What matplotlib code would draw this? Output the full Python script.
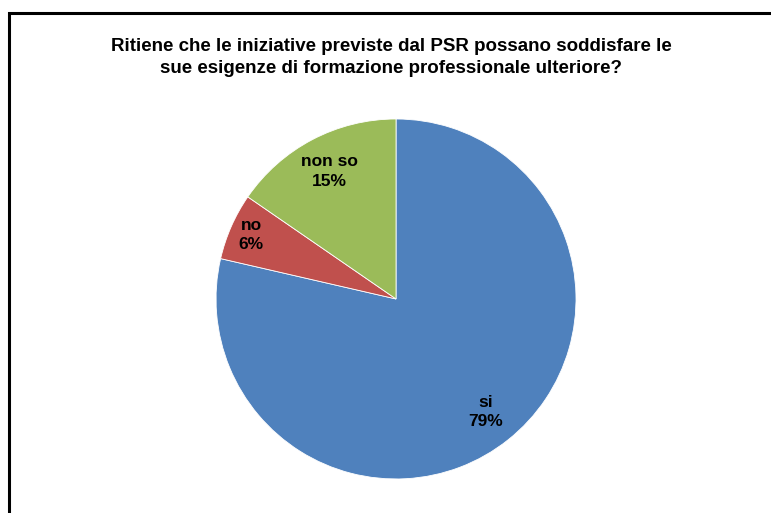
import matplotlib
matplotlib.use("Agg")
import matplotlib.pyplot as plt
from matplotlib.patches import Rectangle

plt.rcParams['font.family'] = ['Liberation Sans', 'DejaVu Sans']

labels = ["si", "no", "non so"]
values = [78.6, 6.0, 15.4]
colors = ["#4F81BD", "#C0504D", "#9BBB59"]
title = "Ritiene che le iniziative previste dal PSR possano soddisfare le\nsue esigenze di formazione professionale ulteriore?"

fig = plt.figure(figsize=(7.71, 5.13), dpi=100)
ax = fig.add_axes([0.2802, 0.0663, 0.4669, 0.7018])

wedges, texts, autotexts = ax.pie(
    values, colors=colors, startangle=90, counterclock=False,
    autopct=lambda p: "", pctdistance=0.8,
    wedgeprops=dict(edgecolor="white", linewidth=0.6))

for w, t, lab, v in zip(wedges, autotexts, labels, values):
    t.set_text(f"{lab}\n{round(v)}%")
    t.set_fontsize(12.5)
    t.set_fontweight("bold")
    t.set_linespacing(1.35)
    if lab == "no":
        x, y = t.get_position()
        t.set_position((x * 1.1, y * 1.1))

ax.set_xlim(-1, 1)
ax.set_ylim(-1, 1)

fig.text(0.507, 0.888, title, ha="center", va="center", fontsize=13.5,
         fontweight="bold", linespacing=1.45)

# chart border (right and bottom sides fall outside the image)
fig.patches.append(Rectangle((9 / 771, -0.1), 1.2, 1.1 - 13 / 513,
                             transform=fig.transFigure, fill=False,
                             edgecolor="black", linewidth=2.2))

fig.savefig("out.png", dpi=100)
